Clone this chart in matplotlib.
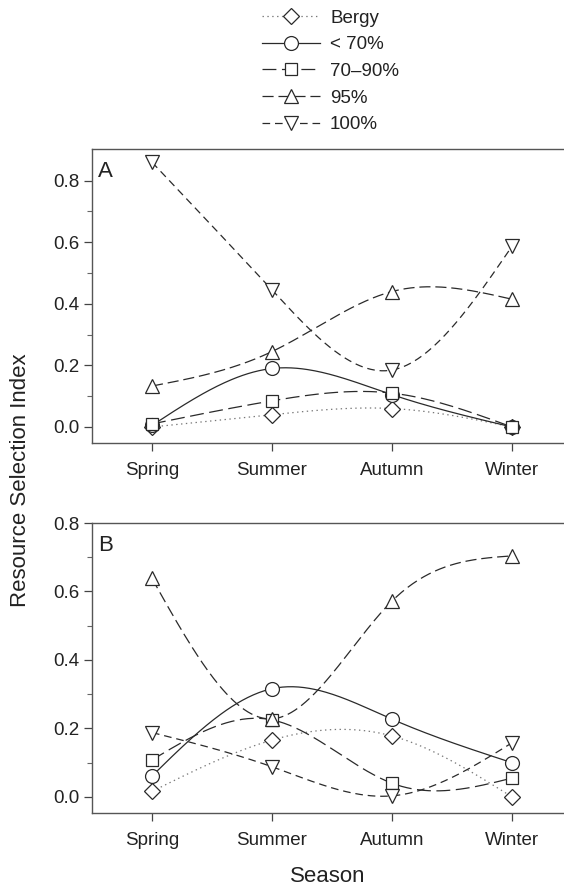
import matplotlib
matplotlib.use("Agg")
import matplotlib.pyplot as plt
from matplotlib.lines import Line2D
import numpy as np

plt.rcParams['font.family'] = ['Liberation Sans', 'DejaVu Sans']
plt.rcParams['lines.scale_dashes'] = False

seasons = ["Spring", "Summer", "Autumn", "Winter"]
labels = ["Bergy", "< 70%", "70\u201390%", "95%", "100%"]

# panel A values
a_bergy = [0.00, 0.04, 0.06, 0.00]
a_lt70 = [0.005, 0.19, 0.105, 0.00]
a_70_90 = [0.01, 0.085, 0.11, 0.00]
a_95 = [0.133, 0.245, 0.44, 0.415]
a_100 = [0.86, 0.445, 0.185, 0.587]

# panel B values
b_bergy = [0.016, 0.166, 0.178, 0.00]
b_lt70 = [0.061, 0.316, 0.227, 0.10]
b_70_90 = [0.108, 0.225, 0.04, 0.055]
b_95 = [0.638, 0.228, 0.572, 0.704]
b_100 = [0.188, 0.088, 0.003, 0.158]

ink = '#2a2a2a'
styles = [
    dict(marker='D', ms=8.5, dashes=(1.0, 2.5), color='#777777', lw=0.9),
    dict(marker='o', ms=10, dashes=(None, None), color=ink, lw=0.9),
    dict(marker='s', ms=8.5, dashes=(10, 4), color=ink, lw=0.9),
    dict(marker='^', ms=10, dashes=(8, 3.5), color=ink, lw=0.9),
    dict(marker='v', ms=10, dashes=(5.5, 3.5), color=ink, lw=0.9),
]


def natural_spline(y, n=200):
    # smooth curve through the points (spline line style)
    y = np.asarray(y, float)
    k = len(y)
    A = np.zeros((k, k))
    r = np.zeros(k)
    A[0, 0] = A[-1, -1] = 1
    for i in range(1, k - 1):
        A[i, i - 1], A[i, i], A[i, i + 1] = 1, 4, 1
        r[i] = 6 * (y[i + 1] - 2 * y[i] + y[i - 1])
    m = np.linalg.solve(A, r)
    xs = np.linspace(0, k - 1, n)
    idx = np.clip(xs.astype(int), 0, k - 2)
    t = xs - idx
    y0, y1 = y[idx], y[idx + 1]
    m0, m1 = m[idx], m[idx + 1]
    ys = ((1 - t) * y0 + t * y1
          + ((1 - t) ** 3 - (1 - t)) * m0 / 6 + (t ** 3 - t) * m1 / 6)
    return xs, ys


fig = plt.figure(figsize=(5.64, 8.86), dpi=100)
W, H = 564, 886
axA = fig.add_axes([92 / W, 1 - 443 / H, 1 - 92 / W, (443 - 149) / H])
axB = fig.add_axes([92 / W, 1 - 813 / H, 1 - 92 / W, (813 - 523) / H])

panels = [(axA, [a_bergy, a_lt70, a_70_90, a_95, a_100], (-0.052, 0.903), "A"),
          (axB, [b_bergy, b_lt70, b_70_90, b_95, b_100], (-0.047, 0.8), "B")]

xpos = np.arange(len(seasons))
for ax, series, ylim, tag in panels:
    for vals, st in zip(series, styles):
        xs, ys = natural_spline(vals)
        ln, = ax.plot(xs, ys, color=st['color'], lw=st['lw'])
        if st['dashes'][0] is not None:
            ln.set_dashes(st['dashes'])
        ax.plot(xpos, vals, ls='none', marker=st['marker'], ms=st['ms'],
                mfc='white', mec=ink, mew=0.9, zorder=3)
    ax.set_xlim(-0.5, (564 - 152) / 120)
    ax.set_ylim(*ylim)
    ax.set_xticks(xpos)
    ax.set_xticklabels(seasons)
    ax.set_yticks([0.0, 0.2, 0.4, 0.6, 0.8])
    ax.set_yticklabels(["0.0", "0.2", "0.4", "0.6", "0.8"])
    ax.set_yticks([0.1, 0.3, 0.5, 0.7], minor=True)
    ax.tick_params(axis='both', which='major', direction='out', length=6,
                   width=0.9, color='#444444', labelsize=13.5, labelcolor='#222222', pad=3)
    ax.tick_params(axis='y', which='minor', direction='out', length=3.5,
                   width=0.8, color='#666666')
    ax.tick_params(axis='x', pad=8)
    ax.spines['right'].set_visible(False)
    for s in ['left', 'top', 'bottom']:
        ax.spines[s].set_color('#555555')
        ax.spines[s].set_linewidth(1.0)
    ax.annotate(tag, xy=(0, 1), xycoords='axes fraction', xytext=(6, -12),
                textcoords='offset pixels', ha='left', va='top',
                fontsize=16, color='#222222')

fig.text(21 / W, 1 - 480 / H, "Resource Selection Index", rotation=90,
         ha='center', va='center', fontsize=16, color='#222222')
fig.text(328 / W, 1 - 876 / H, "Season", ha='center', va='center',
         fontsize=16, color='#222222')

handles = []
for st in styles:
    h = Line2D([], [], color=st['color'], lw=st['lw'], marker=st['marker'],
               ms=st['ms'], mfc='white', mec=ink, mew=0.9)
    if st['dashes'][0] is not None:
        h.set_dashes(st['dashes'])
    handles.append(h)
fig.legend(handles, labels, loc='upper left', bbox_to_anchor=(262 / W, 1 - 9.5 / H),
           frameon=False, fontsize=13.5, handlelength=3.1, handletextpad=0.53,
           labelspacing=0.51, borderpad=0, borderaxespad=0, numpoints=1,
           labelcolor='#222222')

fig.savefig("out.png", dpi=100)
